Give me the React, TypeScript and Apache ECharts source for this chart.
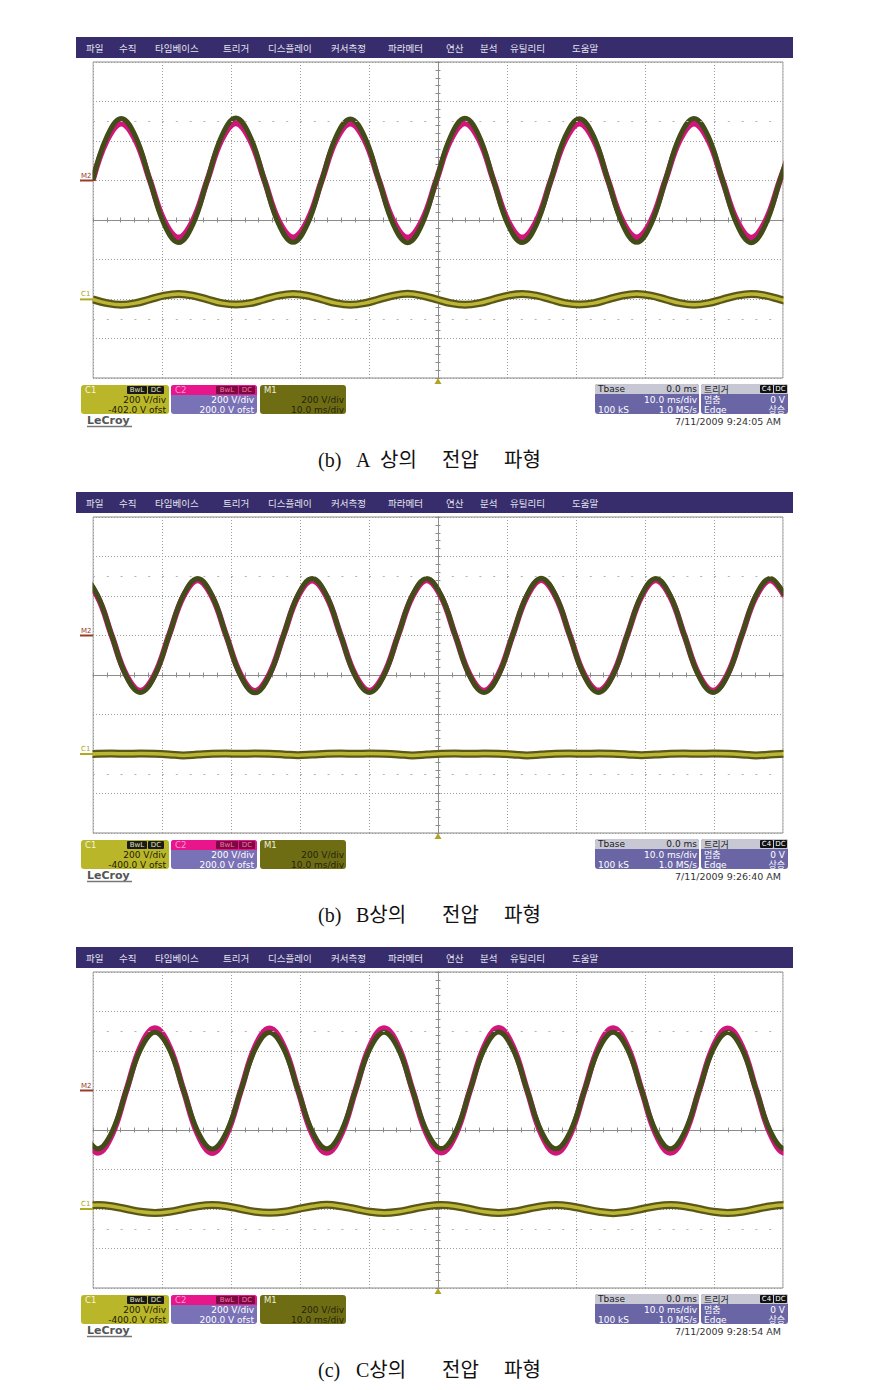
import React, { useEffect, useRef } from "react";
import * as echarts from "echarts";

// ---------- data read from the three oscilloscope screens ----------
const menuItems = ["파일", "수직", "타임베이스", "트리거", "디스플레이", "커서측정", "파라메터", "연산", "분석", "유틸리티", "도움말"];
const menuX = [86, 119, 155, 223, 268, 331, 388, 446, 480, 510, 572];

const timestamps = ["7/11/2009 9:24:05 AM", "7/11/2009 9:26:40 AM", "7/11/2009 9:28:54 AM"];
const c1OffsetLabels = ["-402.0 V ofst", "-400.0 V ofst", "-400.0 V ofst"];
const captionWords = [
  ["(b)", "A", "상의", "전압", "파형"],
  ["(b)", "B상의", "전압", "파형"],
  ["(c)", "C상의", "전압", "파형"],
];

// vertical offsets (V) as reported by the scope
const m2Offset = 200;
const c2Offset = 200;
const c1Offsets = [-402, -400, -400];

// Panel A (time in ms, values in V)
const tA = [-50.05, -47.98, -45.9, -43.83, -41.75, -39.68, -37.6, -35.53,
  -33.45, -31.38, -29.3, -27.23, -25.15, -23.08, -21.0, -18.93,
  -16.85, -14.78, -12.7, -10.63, -8.55, -6.48, -4.4, -2.33,
  -0.25, 1.83, 3.9, 5.98, 8.05, 10.13, 12.2, 14.28,
  16.35, 18.43, 20.5, 22.58, 24.65, 26.73, 28.8, 30.88,
  32.95, 35.03, 37.1, 39.18, 41.25, 43.33, 45.4, 47.48,
  49.55, 51.63];
const m2A = [0, 222, 314, 222, 0, -222, -314, -222,
  0, 223, 316, 223, 0, -221, -313, -221,
  0, 221, 312, 221, 0, -222, -315, -222,
  0, 223, 315, 223, 0, -222, -314, -222,
  0, 222, 313, 222, 0, -221, -313, -221,
  0, 222, 314, 222, 0, -222, -315, -222,
  0, 222];
const c2A = [0, 204, 289, 204, 0, -204, -289, -204,
  0, 205, 290, 205, 0, -204, -288, -204,
  0, 204, 288, 204, 0, -204, -289, -204,
  0, 205, 290, 205, 0, -204, -289, -204,
  0, 204, 289, 204, 0, -204, -288, -204,
  0, 204, 289, 204, 0, -204, -290, -204,
  0, 204];
const c1A = [0, -19, -27, -19, 0, 19, 27, 19,
  0, -19, -26, -19, 0, 19, 27, 19,
  0, -19, -27, -19, 0, 19, 28, 19,
  0, -19, -27, -19, 0, 19, 27, 19,
  0, -19, -26, -19, 0, 19, 27, 19,
  0, -19, -27, -19, 0, 19, 27, 19,
  0, -19];

// Panel B
const tB = [-53.51, -51.44, -49.36, -47.29, -45.21, -43.14, -41.06, -38.99,
  -36.91, -34.84, -32.76, -30.69, -28.61, -26.54, -24.46, -22.39,
  -20.31, -18.24, -16.16, -14.09, -12.01, -9.94, -7.86, -5.79,
  -3.71, -1.64, 0.44, 2.51, 4.59, 6.66, 8.74, 10.81,
  12.89, 14.96, 17.04, 19.11, 21.19, 23.26, 25.34, 27.41,
  29.49, 31.56, 33.64, 35.71, 37.79, 39.86, 41.94, 44.01,
  46.09, 48.16, 50.24];
const m2B = [204, 289, 204, 0, -204, -289, -204, 0,
  204, 289, 204, 0, -204, -290, -204, 0,
  204, 288, 204, 0, -204, -289, -204, 0,
  204, 289, 204, 0, -204, -289, -204, 0,
  204, 290, 204, 0, -204, -288, -204, 0,
  204, 289, 204, 0, -204, -289, -204, 0,
  204, 289, 204];
const c2B = [198, 280, 198, 0, -198, -280, -198, 0,
  198, 280, 198, 0, -198, -281, -198, 0,
  198, 279, 198, 0, -198, -280, -198, 0,
  198, 280, 198, 0, -198, -280, -198, 0,
  198, 281, 198, 0, -198, -279, -198, 0,
  198, 280, 198, 0, -198, -280, -198, 0,
  198, 280, 198];
const c1B = [-7, -3, 1, 2, 1, 2, 1, -2,
  -7, -3, 1, 2, 1, 2, 1, -2,
  -6, -3, 1, 2, 1, 2, 1, -2,
  -7, -3, 1, 2, 1, 2, 1, -2,
  -7, -3, 1, 2, 1, 2, 1, -2,
  -6, -3, 1, 2, 1, 2, 1, -2,
  -7, -3, 1];

// Panel C
const tC = [-51.39, -49.32, -47.24, -45.17, -43.09, -41.02, -38.94, -36.87,
  -34.79, -32.72, -30.64, -28.57, -26.49, -24.42, -22.34, -20.27,
  -18.19, -16.12, -14.04, -11.97, -9.89, -7.82, -5.74, -3.67,
  -1.59, 0.48, 2.56, 4.63, 6.71, 8.78, 10.86, 12.93,
  15.01, 17.08, 19.16, 21.23, 23.31, 25.38, 27.46, 29.53,
  31.61, 33.68, 35.76, 37.83, 39.91, 41.98, 44.06, 46.13,
  48.21, 50.28, 52.36];
const m2C = [-209, -295, -209, 0, 209, 295, 209, 0,
  -209, -296, -209, 0, 209, 294, 209, 0,
  -209, -295, -209, 0, 209, 295, 209, 0,
  -209, -294, -209, 0, 209, 296, 209, 0,
  -209, -295, -209, 0, 209, 295, 209, 0,
  -209, -295, -209, 0, 209, 294, 209, 0,
  -209, -295, -209];
const c2C = [-223, -315, -223, 0, 223, 315, 223, 0,
  -223, -316, -223, 0, 223, 314, 223, 0,
  -223, -315, -223, 0, 223, 315, 223, 0,
  -223, -314, -223, 0, 223, 316, 223, 0,
  -223, -315, -223, 0, 223, 315, 223, 0,
  -223, -315, -223, 0, 223, 314, 223, 0,
  -223, -315, -223];
const c1C = [14, 20, 14, 0, -14, -20, -14, 0,
  14, 20, 14, 0, -14, -19, -14, 0,
  14, 21, 14, 0, -14, -20, -14, 0,
  14, 20, 14, 0, -14, -20, -14, 0,
  14, 20, 14, 0, -14, -21, -14, 0,
  14, 20, 14, 0, -14, -20, -14, 0,
  14, 20, 14];

const panels = [
  { t: tA, m2: m2A, c2: c2A, c1: c1A },
  { t: tB, m2: m2B, c2: c2B, c1: c1B },
  { t: tC, m2: m2C, c2: c2C, c1: c1C },
];

// ---------- layout ----------
const W = 878;
const H = 1390;
const PANEL_DY = 455;
const PLOT_L = 93;
const PLOT_T = 62;
const PLOT_W = 690;
const PLOT_H = 316;

const UI_FONT = '"DejaVu Sans", "Noto Sans CJK KR", sans-serif';
const KR_FONT = '"Noto Sans CJK KR", "DejaVu Sans", sans-serif';
const SERIF_FONT = '"Liberation Serif", "DejaVu Serif", "Noto Sans CJK KR", serif';

function yPix(i: number, v: number) {
  return PLOT_T + PANEL_DY * i + ((800 - v) / 1600) * PLOT_H;
}

function txt(x: number, y: number, text: string, o: any = {}) {
  const align = o.align || "left";
  return {
    type: "text",
    x,
    y,
    silent: true,
    z: 10,
    style: {
      text,
      fill: o.fill || "#000",
      fontSize: o.size || 9,
      fontFamily: o.family || UI_FONT,
      fontWeight: o.weight || "normal",
      textAlign: align,
      align,
      textVerticalAlign: "middle",
      verticalAlign: "middle",
    },
  };
}

function rect(x: number, y: number, w: number, h: number, fill: string, r: any = 0, z = 5) {
  return {
    type: "rect",
    silent: true,
    z,
    shape: { x, y, width: w, height: h, r },
    style: { fill },
  };
}

function panelGraphics(i: number) {
  const dy = PANEL_DY * i;
  const els: any[] = [];
  // white margins that hide the trace ends outside the plot frame
  els.push(rect(70, PLOT_T + dy - 2, PLOT_L - 70 - 0.6, PLOT_H + 4, "#ffffff", 0, 8));
  els.push(rect(PLOT_L + PLOT_W + 0.6, PLOT_T + dy - 2, 18, PLOT_H + 4, "#ffffff", 0, 8));
  // menu bar
  els.push(rect(76, 37 + dy, 717, 21, "#372c6c"));
  menuItems.forEach((m, k) => {
    els.push(txt(menuX[k], 47.5 + dy, m, { fill: "#e4e4ee", size: 9.5, family: KR_FONT }));
  });
  // channel markers on the left
  const yM2 = yPix(i, m2Offset);
  els.push(txt(81, yM2 - 5, "M2", { fill: "#9c3a28", size: 7 }));
  els.push({ type: "line", silent: true, z: 10, shape: { x1: 80, y1: yM2, x2: 93, y2: yM2 }, style: { stroke: "#9c3a28", lineWidth: 2 } });
  const yC1 = yPix(i, c1Offsets[i]);
  els.push(txt(81, yC1 - 5, "C1", { fill: "#aaa420", size: 7 }));
  els.push({ type: "line", silent: true, z: 10, shape: { x1: 80, y1: yC1, x2: 93, y2: yC1 }, style: { stroke: "#b0aa22", lineWidth: 2 } });
  // trigger position triangle
  els.push({
    type: "polygon",
    silent: true,
    z: 10,
    shape: { points: [[434.5, 384 + dy], [441.5, 384 + dy], [438, 378 + dy]] },
    style: { fill: "#b0a424" },
  });

  const by = 385 + dy;
  const r1 = 389.5 + dy;
  const r2 = 399.5 + dy;
  const r3 = 409.5 + dy;
  // C1 descriptor
  els.push(rect(81, by, 88, 29, "#bab62a", 3));
  els.push(txt(85, r1, "C1", { fill: "#f4f4e0", size: 8.5 }));
  els.push(rect(127, by + 1, 20, 8, "#1a1a1a", 1));
  els.push(txt(137, r1, "BwL", { fill: "#e0e0b0", size: 7, align: "center" }));
  els.push(rect(148, by + 1, 16, 8, "#1a1a1a", 1));
  els.push(txt(156, r1, "DC", { fill: "#e0e0b0", size: 7, align: "center" }));
  els.push(txt(166, r2, "200 V/div", { fill: "#1c1c00", size: 9, align: "right" }));
  els.push(txt(166, r3, c1OffsetLabels[i], { fill: "#1c1c00", size: 9, align: "right" }));
  // C2 descriptor
  els.push(rect(171, by, 86, 29, "#7a72b6", 3));
  els.push(rect(171, by, 86, 10, "#e8168a", [3, 3, 0, 0]));
  els.push(txt(175, r1, "C2", { fill: "#ff9ad0", size: 8.5 }));
  els.push(rect(216, by + 1, 22, 8, "#7a0a40", 1));
  els.push(txt(227, r1, "BwL", { fill: "#ff70b0", size: 7, align: "center" }));
  els.push(rect(239, by + 1, 16, 8, "#7a0a40", 1));
  els.push(txt(247, r1, "DC", { fill: "#ff70b0", size: 7, align: "center" }));
  els.push(txt(254, r2, "200 V/div", { fill: "#ffffff", size: 9, align: "right" }));
  els.push(txt(254, r3, "200.0 V ofst", { fill: "#ffffff", size: 9, align: "right" }));
  // M1 descriptor
  els.push(rect(260, by, 86, 29, "#6f6d14", 3));
  els.push(txt(264, r1, "M1", { fill: "#f0f0d8", size: 8.5 }));
  els.push(txt(344, r2, "200 V/div", { fill: "#24240a", size: 9, align: "right" }));
  els.push(txt(344, r3, "10.0 ms/div", { fill: "#24240a", size: 9, align: "right" }));
  // Timebase descriptor
  const ty = 384 + dy;
  els.push(rect(595, ty, 104, 30, "#6a66a6", 3));
  els.push(rect(595, ty, 104, 10, "#c8c8d4", [3, 3, 0, 0]));
  els.push(txt(598, r1 - 0.5, "Tbase", { fill: "#202020", size: 9 }));
  els.push(txt(697, r1 - 0.5, "0.0 ms", { fill: "#202020", size: 9, align: "right" }));
  els.push(txt(697, r2, "10.0 ms/div", { fill: "#ffffff", size: 9, align: "right" }));
  els.push(txt(598, r3, "100 kS", { fill: "#ffffff", size: 9 }));
  els.push(txt(697, r3, "1.0 MS/s", { fill: "#ffffff", size: 9, align: "right" }));
  // Trigger descriptor
  els.push(rect(701, ty, 87, 30, "#6a66a6", 3));
  els.push(rect(701, ty, 87, 10, "#c8c8d4", [3, 3, 0, 0]));
  els.push(txt(704, r1 - 0.5, "트리거", { fill: "#202020", size: 9, family: KR_FONT }));
  els.push(rect(760, ty + 1, 13, 8, "#111111", 1));
  els.push(txt(766.5, r1 - 0.5, "C4", { fill: "#ffffff", size: 7, align: "center" }));
  els.push(rect(774, ty + 1, 13, 8, "#111111", 1));
  els.push(txt(780.5, r1 - 0.5, "DC", { fill: "#ffffff", size: 7, align: "center" }));
  els.push(txt(704, r2, "멈춤", { fill: "#ffffff", size: 9, family: KR_FONT }));
  els.push(txt(785, r2, "0 V", { fill: "#ffffff", size: 9, align: "right" }));
  els.push(txt(704, r3, "Edge", { fill: "#ffffff", size: 9 }));
  els.push(txt(785, r3, "상승", { fill: "#ffffff", size: 9, family: KR_FONT, align: "right" }));
  // LeCroy logo
  els.push(txt(87, 420.5 + dy, "LeCroy", { fill: "#555555", size: 11, weight: "bold" }));
  els.push({ type: "line", silent: true, z: 10, shape: { x1: 87, y1: 426.5 + dy, x2: 132, y2: 426.5 + dy }, style: { stroke: "#777777", lineWidth: 1.5 } });
  // timestamp
  els.push(txt(781, 421.5 + dy, timestamps[i], { fill: "#333333", size: 9.5, align: "right" }));
  // caption
  const words = captionWords[i];
  const cy = 460 + dy;
  const xs = words.length === 5 ? [318, 356, 380, 442, 504] : [318, 356, 442, 504];
  words.forEach((w, k) => {
    els.push(txt(xs[k], cy, w, { fill: "#111111", size: 20, family: SERIF_FONT }));
  });
  return els;
}

function buildOption() {
  const grids: any[] = [];
  const xAxes: any[] = [];
  const yAxes: any[] = [];
  const series: any[] = [];
  const graphics: any[] = [];

  panels.forEach((p, i) => {
    grids.push({
      left: PLOT_L,
      top: PLOT_T + PANEL_DY * i,
      width: PLOT_W,
      height: PLOT_H,
      show: true,
      borderColor: "#8a8a8a",
      borderWidth: 1,
      backgroundColor: "#ffffff",
    });
    const common = {
      gridIndex: i,
      type: "value",
      axisLabel: { show: false },
      axisLine: { show: true, onZero: true, lineStyle: { color: "#8c8c8c", width: 1 } },
      axisTick: { show: true, length: 2.5, inside: false, lineStyle: { color: "#8c8c8c" } },
      minorTick: { show: true, splitNumber: 5, length: 2.5, lineStyle: { color: "#8c8c8c" } },
    };
    xAxes.push({
      ...common,
      position: "bottom",
      min: -50,
      max: 50,
      interval: 10,
      splitLine: { show: true, lineStyle: { color: "#9c9c9c", type: [1, 2], width: 1 } },
    });
    xAxes.push({
      ...common,
      position: "top",
      min: -50,
      max: 50,
      interval: 10,
      splitLine: { show: false },
    });
    yAxes.push({
      ...common,
      position: "left",
      min: -800,
      max: 800,
      interval: 200,
      splitLine: { show: true, lineStyle: { color: "#9c9c9c", type: [1, 2], width: 1 } },
    });
    yAxes.push({
      ...common,
      position: "right",
      min: -800,
      max: 800,
      interval: 200,
      splitLine: { show: false },
    });

    const xi = 2 * i;
    const yi = 2 * i;
    const c2Data = p.t.map((t, k) => [t, p.c2[k] + c2Offset]);
    const m2Data = p.t.map((t, k) => [t, p.m2[k] + m2Offset]);
    const c1Data = p.t.map((t, k) => [t, p.c1[k] + c1Offsets[i]]);

    series.push({
      name: "C2-" + i,
      type: "line",
      xAxisIndex: xi,
      yAxisIndex: yi,
      data: c2Data,
      smooth: 0.4,
      showSymbol: false,
      symbol: "none",
      lineStyle: { color: "#d2157a", width: 6 },
      silent: true,
      z: 3,
      markLine: {
        silent: true,
        symbol: "none",
        label: { show: false },
        lineStyle: { color: "#b4b4b4", type: [2, 11.8], width: 1 },
        data: [{ yAxis: 500 }, { yAxis: -500 }],
      },
    });
    series.push({
      name: "M2-" + i,
      type: "line",
      xAxisIndex: xi,
      yAxisIndex: yi,
      data: m2Data,
      smooth: 0.4,
      showSymbol: false,
      symbol: "none",
      lineStyle: { color: "#424c18", width: 5 },
      silent: true,
      z: 4,
    });
    series.push({
      name: "C1edge-" + i,
      type: "line",
      xAxisIndex: xi,
      yAxisIndex: yi,
      data: c1Data,
      smooth: 0.4,
      showSymbol: false,
      symbol: "none",
      lineStyle: { color: "#5a5818", width: 8 },
      silent: true,
      z: 4,
    });
    series.push({
      name: "C1-" + i,
      type: "line",
      xAxisIndex: xi,
      yAxisIndex: yi,
      data: c1Data,
      smooth: 0.4,
      showSymbol: false,
      symbol: "none",
      lineStyle: { color: "#bcb634", width: 3.5 },
      silent: true,
      z: 5,
    });

    graphics.push(...panelGraphics(i));
  });

  return {
    animation: false,
    backgroundColor: "#ffffff",
    grid: grids,
    xAxis: xAxes,
    yAxis: yAxes,
    series,
    graphic: { elements: graphics },
  };
}

export default function App() {
  const ref = useRef<HTMLDivElement>(null);
  useEffect(() => {
    if (!ref.current) return;
    const chart = echarts.init(ref.current, undefined, { renderer: "svg", width: W, height: H });
    chart.setOption(buildOption() as any);
    return () => {
      chart.dispose();
    };
  }, []);
  return (
    <div
      ref={ref}
      style={{ position: "absolute", left: 0, top: 0, width: W, height: H, background: "#ffffff" }}
    />
  );
}
